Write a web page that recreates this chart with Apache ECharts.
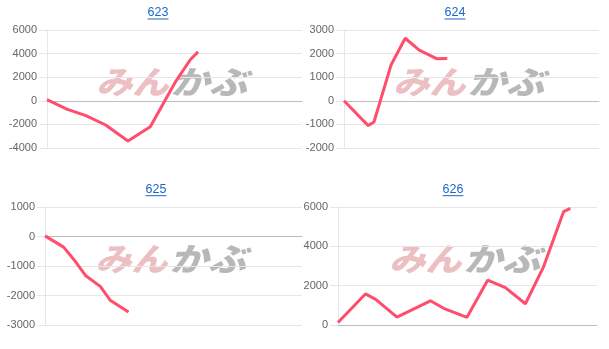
<!DOCTYPE html>
<html>
<head>
<meta charset="utf-8">
<script src="https://cdn.jsdelivr.net/npm/echarts@6/dist/echarts.min.js"></script>
<style>
html,body{margin:0;padding:0;background:#fff;}
#c{width:609px;height:349px;}
</style>
</head>
<body>
<div id="c"></div>
<script>
// ---- data ----
const titles = ['623', '624', '625', '626'];

const x623 = [0, 3.1, 6.1, 9.2, 12.7, 16.2, 20.2, 22.5, 23.7];
const y623 = [100, -700, -1250, -2050, -3400, -2200, 1650, 3500, 4150];

const x624 = [0, 3.8, 4.7, 7.4, 9.6, 11.8, 14.6, 16.2];
const y624 = [0, -1050, -900, 1530, 2650, 2150, 1780, 1790];

const x625 = [0, 2.9, 4.45, 6.3, 8.6, 10.2, 13.0];
const y625 = [20, -360, -770, -1320, -1690, -2170, -2560];

const x626 = [0, 4.23, 5.82, 9.11, 14.27, 16.32, 19.92, 23.11, 25.85, 28.94, 31.76, 34.85, 35.88];
const y626 = [130, 1580, 1300, 400, 1230, 850, 390, 2280, 1900, 1080, 2970, 5770, 5930];

const yMin = [-4000, -2000, -3000, 0];
const yMax = [6000, 3000, 1000, 6000];
const yStep = [2000, 1000, 1000, 2000];

const xs = [x623, x624, x625, x626];
const ys = [y623, y624, y625, y626];

// ---- layout ----
const grids = [
  {left: 47, top: 30, width: 255, height: 118},
  {left: 344, top: 30, width: 255, height: 118},
  {left: 45, top: 207, width: 257, height: 118},
  {left: 338, top: 207, width: 259, height: 118}
];
const titlePos = [[158, 14], [455, 14], [156, 190.7], [453, 190.7]];

const LINE = '#ff4d6d';
const GRIDC = '#e6e6e6';
const FONT = '"Liberation Sans", Arial, sans-serif';

const chart = echarts.init(document.getElementById('c'), null, {renderer: 'canvas'});

const measureCanvas = document.createElement('canvas').getContext('2d');
measureCanvas.font = '12.5px ' + FONT;

const graphics = [];
titles.forEach((t, i) => {
  const [cx, cy] = titlePos[i];
  const w = measureCanvas.measureText(t).width;
  graphics.push({
    type: 'text', left: cx - w / 2, top: cy - 7.5, z: 10,
    style: {text: t, fill: '#1a66c8', font: '12.5px ' + FONT}
  });
  graphics.push({
    type: 'line', z: 10,
    shape: {x1: cx - w / 2, y1: cy + 5, x2: cx + w / 2, y2: cy + 5},
    style: {stroke: '#1a66c8', lineWidth: 1}
  });
  // watermark
  const g = grids[i];
  const mx = g.left + g.width / 2 - 1;
  const my = g.top + g.height / 2 - 7.5;
  graphics.push({
    type: 'text', z: -1, x: mx - 5, y: my, scaleX: 1.13,
    style: {text: 'みん', fill: '#ecbfc2', fontSize: 32, fontWeight: 900, fontStyle: 'italic',
      fontFamily: '"Noto Sans CJK JP"', align: 'right', verticalAlign: 'middle'}
  });
  graphics.push({
    type: 'text', z: -1, x: mx - 3, y: my, scaleX: 1.2,
    style: {text: 'かぶ', fill: '#b8b8b8', fontSize: 32, fontWeight: 900, fontStyle: 'italic',
      fontFamily: '"Noto Sans CJK JP"', align: 'left', verticalAlign: 'middle'}
  });
});

const option = {
  animation: false,
  backgroundColor: '#fff',
  grid: grids.map(g => Object.assign({containLabel: false}, g)),
  xAxis: grids.map((g, i) => ({
    type: 'value', gridIndex: i, min: 0, max: 40,
    axisLine: {show: true, onZero: true, lineStyle: {color: '#bdbdbd', width: 1}},
    axisTick: {show: false}, axisLabel: {show: false}, splitLine: {show: false}
  })),
  yAxis: grids.map((g, i) => ({
    type: 'value', gridIndex: i, min: yMin[i], max: yMax[i], interval: yStep[i],
    axisLine: {show: true, lineStyle: {color: GRIDC}},
    axisTick: {show: true, length: 8, lineStyle: {color: GRIDC}},
    axisLabel: {color: '#666', fontSize: 11, fontFamily: FONT, margin: 10,
      formatter: v => String(v)},
    splitLine: {show: true, lineStyle: {color: GRIDC}}
  })),
  series: xs.map((xa, i) => ({
    type: 'line', xAxisIndex: i, yAxisIndex: i,
    data: xa.map((x, j) => [x, ys[i][j]]),
    showSymbol: false, smooth: false,
    lineStyle: {color: LINE, width: 3}, itemStyle: {color: LINE}, z: 5
  })),
  graphic: graphics
};
chart.setOption(option);
</script>
</body>
</html>
